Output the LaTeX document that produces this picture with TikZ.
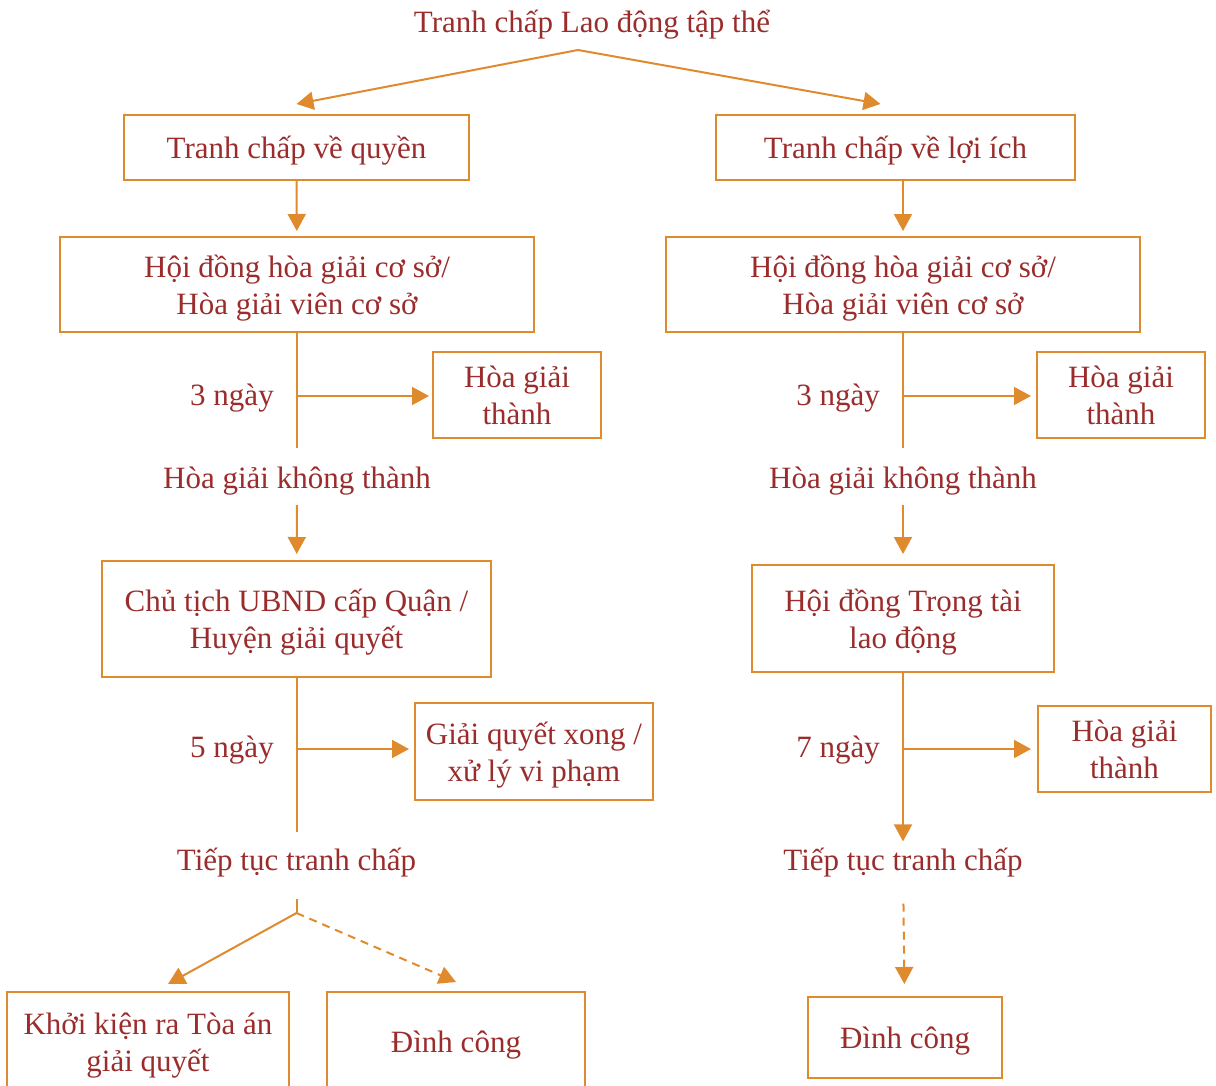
\documentclass[tikz,border=0pt]{standalone}
\usepackage{fontspec}
\setmainfont{Liberation Serif}
\usetikzlibrary{arrows.meta, positioning, calc}
\definecolor{textred}{HTML}{9B2C2C}
\definecolor{lineorange}{HTML}{E08A2E}

\begin{document}
\begin{tikzpicture}[x=0.5pt,y=-0.5pt,>={Triangle[length=8.5pt,width=9pt]},
                    box/.style={rectangle,draw=lineorange,line width=1pt,text=textred,align=center,text depth=0pt,font=\fontsize{15.5}{18.5}\selectfont},
                    note/.style={text=textred,align=center,font=\fontsize{15.5}{18.5}\selectfont},
                    link/.style={color=lineorange,line width=1pt},
                    arrow/.style={link,->},
                    dasharrow/.style={arrow,dash pattern=on 4pt off 3pt}]
        \useasboundingbox (0,0) rectangle (1216,1086);
        \clip (0,0) rectangle (1216,1086);

        % top
        \node[note] (top) at (592,25) {Tranh chấp Lao động tập thể};
        \coordinate (tj) at (578,50);
        \node[box,minimum width=172.5pt,minimum height=32.5pt] (a1) at (296.5,147.5) {Tranh chấp về quyền};
        \node[box,minimum width=179.5pt,minimum height=32.5pt] (b1) at (895.5,147.5) {Tranh chấp về lợi ích};

        % left column
        \node[box,minimum width=237pt,minimum height=47.5pt] (a2) at (297,284.5) {Hội đồng hòa giải cơ sở/\\Hòa giải viên cơ sở};
        \coordinate (aj1) at (297,396);
        \node[note] (a2days) at (232,398) {3 ngày};
        \node[box,minimum width=84pt,minimum height=43pt] (a3) at (517,395) {Hòa giải\\thành};
        \node[note] (a2fail) at (297,481) {Hòa giải không thành};
        \node[box,minimum width=194.5pt,minimum height=58pt] (a4) at (296.5,619) {Chủ tịch UBND cấp Quận /\\Huyện giải quyết};
        \coordinate (aj2) at (296.5,749);
        \node[note] (a4days) at (232,750) {5 ngày};
        \node[box,minimum width=119pt,minimum height=48.5pt] (a5) at (534,751.5) {Giải quyết xong /\\xử lý vi phạm};
        \node[note] (a4fail) at (296.5,863) {Tiếp tục tranh chấp};
        \coordinate (aj3) at (296.5,913);
        \node[box,minimum width=141pt,minimum height=50pt] (a6) at (148,1042) {Khởi kiện ra Tòa án\\giải quyết};
        \node[box,minimum width=129pt,minimum height=50pt] (a7) at (456,1042) {Đình công};

        % right column
        \node[box,minimum width=237pt,minimum height=47.5pt] (b2) at (903,284.5) {Hội đồng hòa giải cơ sở/\\Hòa giải viên cơ sở};
        \coordinate (bj1) at (903,396);
        \node[note] (b2days) at (838,398) {3 ngày};
        \node[box,minimum width=84pt,minimum height=43pt] (b3) at (1121,395) {Hòa giải\\thành};
        \node[note] (b2fail) at (903,481) {Hòa giải không thành};
        \node[box,minimum width=151pt,minimum height=53.5pt] (b4) at (903,618.5) {Hội đồng Trọng tài\\lao động};
        \coordinate (bj2) at (903,749);
        \node[note] (b4days) at (838,750) {7 ngày};
        \node[box,minimum width=86.5pt,minimum height=43pt] (b5) at (1124.5,749) {Hòa giải\\thành};
        \node[note] (b4fail) at (903,863) {Tiếp tục tranh chấp};
        \node[box,minimum width=97pt,minimum height=40.5pt] (b6) at (905,1037.5) {Đình công};

        \path[arrow]
        (tj) edge ([yshift=5pt]a1.north)
        (tj) edge ([xshift=-7.5pt,yshift=5pt]b1.north)
        (a1) edge[shorten >=2.5pt] (a2)
        (b1.south -| b2.north) edge[shorten >=2.5pt] (b2)
        (aj1) edge[shorten >=1.5pt] (aj1 -| a3.west)
        (bj1) edge[shorten >=2.5pt] (bj1 -| b3.west)
        (a2fail) edge[shorten <=1.5pt,shorten >=3pt] (a4)
        (b2fail) edge[shorten <=1.5pt,shorten >=5pt] (b4)
        (aj2) edge[shorten >=2.5pt] (aj2 -| a5.west)
        (bj2) edge[shorten >=3pt] (bj2 -| b5.west)
        (b4) edge (b4fail)
        (aj3) edge ([xshift=10pt,yshift=3.5pt]a6.north);

        \path[link]
        (a2) edge[shorten >=6pt] (a2fail)
        (b2) edge[shorten >=6pt] (b2fail)
        (a4) edge[shorten >=4.5pt] (a4fail)
        (a4fail) edge[shorten <=7pt] (aj3);

        \path[dasharrow]
        (aj3) edge ([yshift=4.5pt]a7.north)
        (b4fail) edge[shorten <=9.5pt,shorten >=6pt] (b6);
\end{tikzpicture}
\end{document}
